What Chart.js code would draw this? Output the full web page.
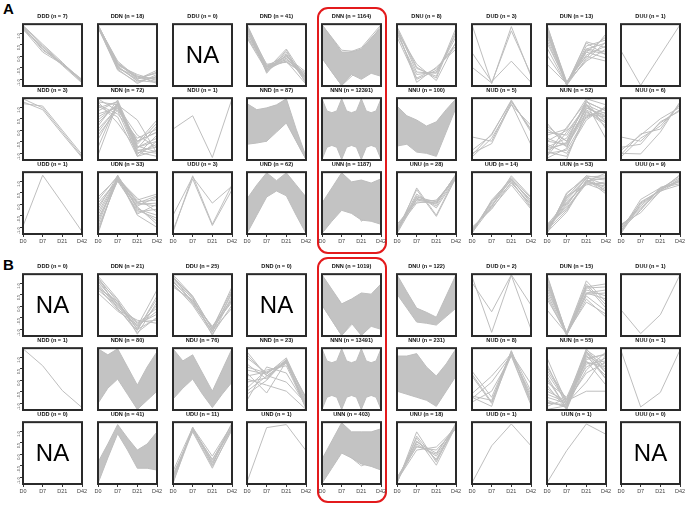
<!DOCTYPE html>
<html>
<head>
<meta charset="utf-8">
<script src="https://cdn.jsdelivr.net/npm/chart.js@4.4.0/dist/chart.umd.min.js"></script>
<style>
  body { margin: 0; width: 685px; height: 506px; background: #fff; position: relative; overflow: hidden;
         font-family: "Liberation Sans", Arial, sans-serif; }
  .cell { position: absolute; }
  .tag { position: absolute; font-weight: bold; font-size: 15px; line-height: 15px; }
  .hl { position: absolute; border: 2px solid #e31a1c; border-radius: 11px; box-sizing: border-box; }
</style>
</head>
<body>
<div class="tag" style="left:3px;top:1px">A</div>
<div class="tag" style="left:3px;top:257px">B</div>
<div class="hl" style="left:317px;top:7px;width:70px;height:247px"></div>
<div class="hl" style="left:317px;top:257px;width:70px;height:246px"></div>
<script>
// x categories and y ticks
const timepoints = ["D0", "D7", "D21", "D42"];
const yTickPos = [0.1, 0.29, 0.48, 0.67, 0.86];
const yTickLabels = ["-1.0", "-0.5", "0.0", "0.5", "1.0"];

// panel names (3 rows x 9 columns) and the n of each panel
const patterns = ["DDD","DDN","DDU","DND","DNN","DNU","DUD","DUN","DUU",
                  "NDD","NDN","NDU","NND","NNN","NNU","NUD","NUN","NUU",
                  "UDD","UDN","UDU","UND","UNN","UNU","UUD","UUN","UUU"];
const countsA = [7,18,0,41,1164,8,3,13,1, 3,72,1,87,12391,100,5,52,6, 1,33,3,62,1187,28,14,53,9];
const countsB = [0,21,25,0,1019,122,2,15,1, 1,80,76,23,13491,231,8,55,1, 0,41,11,1,403,18,1,1,0];

// x positions used by the dense envelopes
const half = [0, 0.5, 1, 1.5, 2, 2.5, 3];
const quarter = [0, 0.25, 0.5, 0.75, 1, 1.25, 1.5, 1.75, 2, 2.25, 2.5, 2.75, 3];

// ---- panel A lines (values at D0, D7, D21, D42, scaled 0..1) ----
const A_DDD = [[0.98,0.66,0.36,0.05],[0.96,0.6,0.34,0.08],[0.93,0.55,0.35,0.1],[0.99,0.68,0.38,0.06],[0.95,0.63,0.33,0.04],[0.97,0.58,0.37,0.09],[0.92,0.64,0.35,0.07]];
const A_DDN = [[1,0.35,0.12,0.2],[0.98,0.3,0.08,0.05],[0.97,0.28,0.15,0.1],[0.99,0.38,0.1,0.22],[0.96,0.25,0.05,0.15],[1,0.33,0.18,0.08],[0.98,0.4,0.12,0.12],[0.97,0.27,0.03,0.18],[0.99,0.36,0.14,0.06],[0.95,0.3,0.1,0.25],[0.99,0.32,0.07,0.14],[0.97,0.36,0.16,0.03]];
const A_DND = [[1,0.3,0.45,0.1],[0.98,0.25,0.5,0.05],[0.95,0.28,0.4,0.15],[0.9,0.22,0.55,0.08],[0.85,0.32,0.42,0.2],[0.8,0.27,0.48,0.12],[0.97,0.2,0.58,0.03],[0.92,0.35,0.38,0.18],[0.88,0.3,0.52,0.06],[0.78,0.24,0.44,0.14],[1,0.33,0.47,0.22],[0.94,0.26,0.6,0.1],[0.82,0.3,0.4,0.02],[0.96,0.23,0.5,0.16]];
const A_DNN = [[0.45,0.0,0.3,0.4],[0.9,0.5,0.62,1.0],[1.0,0.58,0.55,0.98]];
const A_DNU = [[0.97,0.3,0.12,0.9],[0.95,0.22,0.2,0.8],[0.9,0.35,0.08,0.72],[0.88,0.12,0.28,0.65],[0.93,0.05,0.3,0.6],[0.85,0.18,0.22,0.85],[0.92,0.28,0.15,0.95],[0.8,0.1,0.25,0.7]];
const A_DUD = [[1.0,0.03,0.97,0.15],[0.54,0.06,0.4,0.05],[0.3,0.04,0.9,0.18]];
const A_DUN = [[1.0,0.02,0.55,0.8],[0.95,0.05,0.6,0.55],[0.9,0.0,0.45,0.85],[0.85,0.03,0.7,0.5],[0.8,0.04,0.5,0.65],[0.75,0.02,0.65,0.75],[0.7,0.05,0.4,0.6],[0.62,0.01,0.55,0.45],[0.35,0.03,0.6,0.7],[0.98,0.06,0.48,0.4],[0.88,0.0,0.72,0.62],[0.93,0.03,0.42,0.72],[0.5,0.02,0.58,0.52]];
const A_DUU = [[0.57,0.0,0.5,1.0]];
const A_NDD = [[1.0,0.85,0.45,0.05],[0.95,0.82,0.42,0.03],[0.92,0.88,0.48,0.08]];
const A_NDN = [[0.95,0.9,0.2,0.3],[0.85,0.95,0.15,0.1],[0.7,0.88,0.3,0.45],[0.6,0.92,0.1,0.25],[0.5,0.85,0.25,0.6],[0.33,0.9,0.05,0.15],[0.07,0.93,0.2,0.35],[0.9,0.75,0.35,0.5],[0.8,0.96,0.12,0.05],[0.45,0.87,0.4,0.2],[1.0,0.8,0.08,0.4],[0.65,0.9,0.65,0.1],[0.2,0.95,0.18,0.55],[0.75,0.85,0.28,0.65],[0.55,0.98,0.22,0.12],[0.88,0.7,0.05,0.3],[0.4,0.82,0.3,0.45],[0.95,0.6,0.15,0.2]];
const A_NDU = [[0.5,0.72,0.03,1.0]];
const A_NND = [[0.55,0.35,0.62,0.0],[0.4,0.3,0.7,0.02],[0.65,0.5,0.65,0.03]];
const A_NUD = [[0.37,0.3,0.95,0.5],[0.15,0.4,0.98,0.45],[0.1,0.26,0.92,0.24],[0.04,0.35,0.9,0.56],[0.07,0.42,0.96,0.48]];
const A_NUN = [[0.6,0.2,0.85,0.7],[0.5,0.3,0.95,0.8],[0.4,0.5,1.0,0.9],[0.3,0.25,0.78,0.6],[0.2,0.35,0.9,0.75],[0.1,0.15,0.7,0.85],[0.05,0.45,0.88,0.65],[0.0,0.0,0.8,0.55],[0.15,0.28,0.98,0.5],[0.25,0.1,0.65,0.88],[0.45,0.4,0.92,0.34],[0.35,0.22,0.75,0.7],[0.08,0.53,0.95,0.8],[0.55,0.3,0.82,0.6],[0.12,0.05,0.72,0.78],[0.02,0.18,0.9,0.62],[0.3,0.48,0.68,0.85],[0.18,0.26,0.85,0.72]];
const A_NUU = [[0.37,0.3,0.6,0.82],[0.15,0.4,0.67,0.86],[0.1,0.09,0.45,0.95],[0.04,0.35,0.55,0.9],[0.2,0.25,0.62,0.8],[0.08,0.42,0.5,0.93]];
const A_UDD = [[0.12,0.96,0.5,0.03]];
const A_UDN = [[0.6,0.92,0.5,0.45],[0.5,0.88,0.45,0.6],[0.4,0.95,0.4,0.3],[0.3,0.9,0.55,0.65],[0.2,0.93,0.3,0.1],[0.1,0.87,0.48,0.5],[0.0,0.96,0.42,0.2],[0.05,0.9,0.35,0.4],[0.15,0.94,0.52,0.55],[0.25,0.86,0.38,0.25],[0.35,0.91,0.58,0.35],[0.45,0.89,0.44,0.15],[0.02,0.93,0.5,0.62],[0.55,0.95,0.32,0.48]];
const A_UDU = [[0.3,0.93,0.5,0.78],[0.02,0.95,0.15,0.8],[0.05,0.9,0.13,0.72]];
const A_UNN = [[0.3,0.9,0.2,0.45],[0.05,0.8,0.25,0.5]];
const A_UNU = [[0.0,0.75,0.3,0.95],[0.05,0.72,0.28,0.92],[0.1,0.55,0.5,0.97],[0.02,0.6,0.52,0.93],[0.08,0.5,0.55,0.9],[0.12,0.58,0.48,0.98],[0.04,0.62,0.45,0.94],[0.15,0.52,0.5,0.96],[0.06,0.65,0.42,0.91],[0.0,0.56,0.53,0.95]];
const A_UUD = [[0.0,0.55,0.9,0.5],[0.05,0.45,0.95,0.6],[0.1,0.4,0.85,0.45],[0.03,0.5,0.88,0.55],[0.08,0.42,0.8,0.4],[0.02,0.52,0.92,0.58],[0.06,0.47,0.83,0.48],[0.04,0.53,0.87,0.42],[0.01,0.44,0.9,0.52]];
const A_UUN = [[0.0,0.67,0.92,0.8],[0.05,0.6,0.95,0.9],[0.1,0.5,0.85,1.0],[0.15,0.4,0.82,0.7],[0.02,0.35,0.88,0.75],[0.08,0.55,0.9,0.65],[0.12,0.45,0.93,0.95],[0.04,0.62,0.8,0.85],[0.06,0.38,0.87,0.72],[0.0,0.58,0.91,0.88],[0.1,0.42,0.84,0.78],[0.03,0.65,0.95,0.68],[0.07,0.48,0.86,0.92],[0.14,0.52,0.83,0.82]];
const A_UUU = [[0.04,0.56,0.75,0.82],[0.08,0.5,0.72,0.88],[0.15,0.34,0.7,0.97],[0.1,0.4,0.74,0.92],[0.02,0.52,0.7,0.8],[0.12,0.45,0.73,0.95],[0.06,0.38,0.76,0.85],[0.0,0.48,0.71,0.9],[0.13,0.42,0.69,0.87]];

// ---- panel B lines ----
const B_DDN = [[0.98,0.6,0.15,0.75],[0.95,0.55,0.1,0.6],[0.9,0.5,0.2,0.45],[0.85,0.45,0.05,0.3],[0.8,0.42,0.25,0.2],[0.75,0.48,0.12,0.5],[0.7,0.4,0.18,0.35],[0.92,0.58,0.02,0.55],[0.88,0.52,0.22,0.25],[0.96,0.44,0.08,0.65],[0.82,0.5,0.15,0.4],[0.78,0.56,0.1,0.28]];
const B_DDU = [[1.0,0.65,0.1,0.8],[0.95,0.6,0.05,0.7],[0.9,0.55,0.15,0.6],[0.85,0.5,0.02,0.5],[0.8,0.58,0.12,0.75],[0.98,0.52,0.08,0.45],[0.92,0.62,0.0,0.65],[0.88,0.57,0.14,0.55],[0.83,0.54,0.06,0.72],[0.96,0.64,0.1,0.58]];
const B_DNN = [[0.5,0.0,0.35,0.4]];
const B_DUD = [[0.87,0.39,1.0,0.5],[0.97,0.05,0.99,0.1]];
const B_DUN = [[1.0,0.02,0.8,0.85],[0.95,0.0,0.7,0.75],[0.9,0.04,0.85,0.5],[0.85,0.01,0.6,0.3],[0.8,0.03,0.75,0.65],[0.75,0.05,0.9,0.55],[0.7,0.02,0.65,0.4],[0.65,0.0,0.78,0.8],[0.6,0.04,0.55,0.35],[0.42,0.03,0.7,0.6],[0.98,0.01,0.82,0.45],[0.88,0.02,0.68,0.7]];
const B_DUU = [[0.42,0.03,0.34,1.0]];
const B_NDD = [[1.0,0.72,0.31,0.03]];
const B_NND = [[0.95,0.55,0.8,0.05],[0.85,0.6,0.78,0.1],[0.75,0.5,0.82,0.0],[0.65,0.58,0.85,0.15],[0.55,0.62,0.76,0.08],[0.45,0.52,0.8,0.2],[0.35,0.65,0.72,0.03],[0.25,0.48,0.83,0.12],[0.15,0.7,0.6,0.06],[0.6,0.27,0.79,0.02],[0.9,0.56,0.45,0.1],[0.5,0.4,0.3,0.0],[0.7,0.6,0.81,0.18],[0.3,0.55,0.77,0.04]];
const B_NUD = [[0.63,0.2,0.95,0.3],[0.55,0.1,0.9,0.1],[0.26,0.55,0.92,0.42],[0.2,0.05,0.96,0.15],[0.12,0.3,0.88,0.07],[0.22,0.15,0.93,0.2],[0.58,0.12,0.97,0.12],[0.18,0.45,0.9,0.25]];
const B_NUN = [[0.85,0.1,0.95,0.7],[0.75,0.05,0.85,0.9],[0.65,0.15,1.0,0.6],[0.55,0.0,0.75,0.8],[0.45,0.2,0.9,0.5],[0.35,0.08,0.65,0.95],[0.25,0.12,0.98,0.75],[0.15,0.03,0.8,0.4],[0.05,0.18,0.7,0.85],[0.0,0.06,0.92,0.65],[0.3,0.14,0.3,0.3],[0.5,0.02,0.88,0.55],[0.2,0.1,0.45,0.9],[0.7,0.16,0.78,0.7],[0.4,0.0,0.95,0.6],[0.1,0.08,0.82,0.92],[0.6,0.12,0.6,0.78],[0.12,0.05,0.96,0.5]];
const B_NUU = [[0.97,0.04,0.28,0.98]];
const B_UDU = [[0.0,0.93,0.3,1.0],[0.05,0.9,0.35,0.95],[0.1,0.88,0.4,0.9],[0.15,0.85,0.25,0.92],[0.2,0.92,0.45,0.97],[0.02,0.87,0.28,0.88],[0.08,0.91,0.38,0.99],[0.12,0.89,0.33,0.93]];
const B_UND = [[0.02,0.92,0.97,0.54]];
const B_UNN = [[0.05,0.55,0.29,0.4]];
const B_UNU = [[0.0,0.85,0.35,1.0],[0.03,0.75,0.3,0.95],[0.06,0.65,0.45,0.93],[0.1,0.6,0.55,0.9],[0.02,0.7,0.4,0.97],[0.05,0.55,0.6,0.92],[0.08,0.68,0.5,0.96],[0.01,0.78,0.38,0.94],[0.04,0.62,0.48,0.98]];
const B_UUD = [[0.01,0.62,0.98,0.62]];
const B_UUN = [[0.01,0.54,0.98,0.81]];

// ---- envelopes of the dense panels (upper / lower edge of the grey mass) ----
const NNN_hi = [1.0,0.8,0.77,0.8,1.0,0.8,0.77,0.8,1.0,0.8,0.77,0.8,1.0];
const NNN_lo = [0.0,0.2,0.23,0.2,0.0,0.2,0.23,0.2,0.0,0.2,0.23,0.2,0.0];
const A_DNN_hi = [1.0,0.78,0.55,0.55,0.6,0.78,0.95], A_DNN_lo = [0.45,0.22,0.0,0.18,0.1,0.2,0.15];
const A_NND_hi = [0.92,0.82,0.85,0.9,1.0,0.5,0.05], A_NND_lo = [0.25,0.27,0.3,0.45,0.6,0.3,0.0];
const A_NNU_hi = [0.88,0.72,0.65,0.55,0.62,0.82,1.0], A_NNU_lo = [0.22,0.25,0.12,0.1,0.05,0.45,0.85];
const A_UND_hi = [0.57,0.8,1.0,0.87,1.0,0.8,0.6], A_UND_lo = [0.0,0.3,0.6,0.7,0.62,0.3,0.0];
const A_UNN_hi = [0.5,0.75,1.0,0.85,0.88,0.83,0.9], A_UNN_lo = [0.0,0.2,0.38,0.33,0.22,0.2,0.15];
const B_DNN_hi = [1.0,0.76,0.52,0.6,0.7,0.68,0.85], B_DNN_lo = [0.5,0.25,0.0,0.2,0.0,0.15,0.1];
const B_DNU_hi = [1.0,0.72,0.45,0.38,0.3,0.65,1.0], B_DNU_lo = [0.68,0.45,0.22,0.2,0.17,0.31,0.45];
const B_NDN_hi = [1.0,0.9,1.0,0.7,0.4,0.7,0.95], B_NDN_lo = [0.1,0.35,0.5,0.25,0.0,0.15,0.3];
const B_NDU_hi = [1.0,0.8,0.9,0.6,0.3,0.65,1.0], B_NDU_lo = [0.17,0.35,0.5,0.25,0.03,0.25,0.45];
const B_NNU_hi = [0.88,0.88,0.92,0.7,0.55,0.75,1.0], B_NNU_lo = [0.3,0.25,0.2,0.15,0.05,0.3,0.55];
const B_UDN_hi = [0.35,0.65,0.97,0.75,0.55,0.65,0.85], B_UDN_lo = [0.0,0.42,0.82,0.55,0.25,0.25,0.22];
const B_UNN_hi = [0.4,0.7,1.0,0.85,0.85,0.85,0.9], B_UNN_lo = [0.0,0.25,0.5,0.42,0.32,0.28,0.22];

// panels in grid order
const linesA = [A_DDD, A_DDN, [], A_DND, A_DNN, A_DNU, A_DUD, A_DUN, A_DUU,
                A_NDD, A_NDN, A_NDU, A_NND, [], [], A_NUD, A_NUN, A_NUU,
                A_UDD, A_UDN, A_UDU, [], A_UNN, A_UNU, A_UUD, A_UUN, A_UUU];
const linesB = [[], B_DDN, B_DDU, [], B_DNN, [], B_DUD, B_DUN, B_DUU,
                B_NDD, [], [], B_NND, [], [], B_NUD, B_NUN, B_NUU,
                [], [], B_UDU, B_UND, B_UNN, B_UNU, B_UUD, B_UUN, []];
const bandsA = { DNN: [half, A_DNN_hi, A_DNN_lo], NND: [half, A_NND_hi, A_NND_lo], NNN: [quarter, NNN_hi, NNN_lo],
                 NNU: [half, A_NNU_hi, A_NNU_lo], UND: [half, A_UND_hi, A_UND_lo], UNN: [half, A_UNN_hi, A_UNN_lo] };
const bandsB = { DNN: [half, B_DNN_hi, B_DNN_lo], DNU: [half, B_DNU_hi, B_DNU_lo], NDN: [half, B_NDN_hi, B_NDN_lo],
                 NDU: [half, B_NDU_hi, B_NDU_lo], NNN: [quarter, NNN_hi, NNN_lo], NNU: [half, B_NNU_hi, B_NNU_lo],
                 UDN: [half, B_UDN_hi, B_UDN_lo], UNN: [half, B_UNN_hi, B_UNN_lo] };

// layout
const firstCol = 23, colStep = 74.8, boxW = 59, boxH = 62;
const axisW = 16, titleH = 11, axisH = 12, rightPad = 8;
const rowTopsA = [24, 98, 172];
const rowTopsB = [274, 348, 422];
const grey = "#bebebe";

const framePlugin = {
  id: "frame",
  afterDatasetsDraw(chart, args, opts) {
    const { ctx, chartArea: a } = chart;
    ctx.save();
    if (opts.na) {
      ctx.fillStyle = "#000";
      ctx.font = '24px "Liberation Sans", Arial, sans-serif';
      ctx.textAlign = "center";
      ctx.textBaseline = "middle";
      ctx.fillText("NA", (a.left + a.right) / 2, (a.top + a.bottom) / 2 + 1);
    }
    ctx.strokeStyle = "#2a2a2a";
    ctx.lineWidth = 2;
    ctx.strokeRect(a.left, a.top, a.right - a.left, a.bottom - a.top);
    ctx.restore();
  }
};

function drawPanel(left, top, title, lines, band, showY, showX, na) {
  const wrap = document.createElement("div");
  wrap.className = "cell";
  wrap.style.left = (left - axisW) + "px";
  wrap.style.top = (top - titleH) + "px";
  wrap.style.width = (axisW + boxW + rightPad) + "px";
  wrap.style.height = (titleH + boxH + axisH) + "px";
  const canvas = document.createElement("canvas");
  wrap.appendChild(canvas);
  document.body.appendChild(wrap);

  const datasets = [];
  if (band) {
    const [xs, hi, lo] = band;
    datasets.push({ data: xs.map((x, i) => ({ x, y: hi[i] })), borderColor: grey, borderWidth: 1, fill: false });
    datasets.push({ data: xs.map((x, i) => ({ x, y: lo[i] })), borderColor: grey, borderWidth: 1,
                    fill: "-1", backgroundColor: "#c3c3c3" });
  }
  lines.forEach(vals => {
    datasets.push({ data: vals.map((y, i) => ({ x: i, y })), borderColor: grey, borderWidth: 1, fill: false });
  });

  new Chart(canvas, {
    type: "line",
    data: { datasets },
    options: {
      responsive: true,
      maintainAspectRatio: false,
      animation: false,
      events: [],
      layout: { padding: { left: 0, right: rightPad, top: 0, bottom: 0 } },
      elements: { point: { radius: 0 }, line: { tension: 0 } },
      plugins: {
        legend: { display: false },
        tooltip: { enabled: false },
        title: {
          display: true, fullSize: false, text: title, color: "#111",
          font: { family: '"Liberation Sans", Arial, sans-serif', size: 5.6, weight: "bold", lineHeight: 1.1 },
          padding: { top: 0, bottom: 5 }
        },
        frame: { na }
      },
      scales: {
        x: {
          type: "linear", min: 0, max: 3,
          afterBuildTicks: s => { s.ticks = timepoints.map((t, i) => ({ value: i })); },
          afterFit: s => { s.height = axisH; },
          ticks: { display: showX, autoSkip: false, maxRotation: 0, padding: 1, color: "#444",
                   font: { family: '"Liberation Sans", Arial, sans-serif', size: 5.5 },
                   callback: (v, i) => timepoints[i] },
          grid: { display: showX, drawOnChartArea: false, tickLength: 3, color: "#333" },
          border: { display: false }
        },
        y: {
          min: -0.01, max: 1.01,
          afterBuildTicks: s => { s.ticks = yTickPos.map(v => ({ value: v })); },
          afterFit: s => { s.width = axisW; },
          ticks: { display: showY, padding: 1, color: "#444", minRotation: 90, maxRotation: 90,
                   font: { family: '"Liberation Sans", Arial, sans-serif', size: 4 },
                   callback: (v, i) => yTickLabels[i] },
          grid: { display: showY, drawOnChartArea: false, tickLength: 3, color: "#333" },
          border: { display: false }
        }
      }
    },
    plugins: [framePlugin]
  });
}

function drawBlock(rowTops, counts, lines, bands) {
  patterns.forEach((p, k) => {
    const row = Math.floor(k / 9), col = k % 9;
    const left = Math.round(firstCol + col * colStep);
    drawPanel(left, rowTops[row], `${p} (n = ${counts[k]})`, lines[k], bands[p] || null,
              col === 0, row === 2, counts[k] === 0);
  });
}

drawBlock(rowTopsA, countsA, linesA, bandsA);
drawBlock(rowTopsB, countsB, linesB, bandsB);
</script>
</body>
</html>
